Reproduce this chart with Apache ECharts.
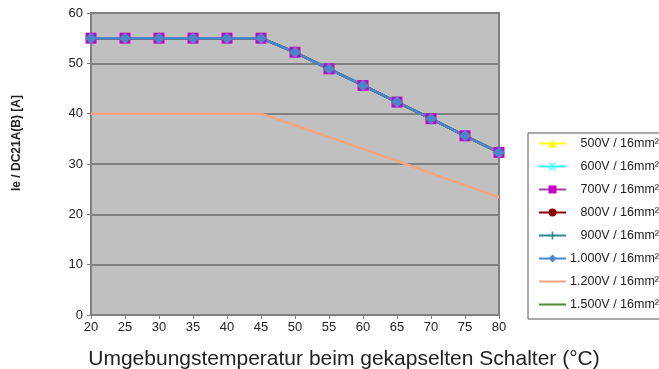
<!DOCTYPE html>
<html>
<head>
  <meta charset="utf-8">
</head>
<body style="margin:0">
  <div id="container" style="width:659px;height:369px"></div>
  <script src="https://cdn.jsdelivr.net/npm/echarts@6/dist/echarts.min.js"></script>
  <script>
    var temps = [20, 25, 30, 35, 40, 45, 50, 55, 60, 65, 70, 75, 80];
    // 500V ... 1.000V curves lie on top of each other
    var ie16 = [55, 55, 55, 55, 55, 55, 52.2, 48.9, 45.6, 42.3, 39.0, 35.6, 32.3];
    var ie1200 = [40, 40, 40, 40, 40, 40, 37.7, 35.4, 33.0, 30.6, 28.2, 25.8, 23.4];
    var ie1500 = [];
    var names = ['500V / 16mm²', '600V / 16mm²', '700V / 16mm²', '800V / 16mm²',
                 '900V / 16mm²', '1.000V / 16mm²', '1.200V / 16mm²', '1.500V / 16mm²'];

    function pairs(v) {
      return v.map(function (y, i) { return [temps[i], y]; });
    }

    function line(name, data, color, symbol, size, lineColor) {
      return {
        name: name,
        type: 'line',
        data: pairs(data),
        symbol: symbol,
        symbolSize: size,
        showSymbol: symbol !== 'none',
        color: color,
        lineStyle: { color: lineColor || color, width: 2.5 },
        itemStyle: { color: color },
        emphasis: { disabled: true }
      };
    }

    var legendData = names.map(function (n, i) {
      // the two lowest entries have no marker
      return i >= 6 ? { name: n, itemStyle: { opacity: 0 } } : { name: n };
    });

    var myChart = echarts.init(document.getElementById('container'));
    var option = {
      animation: false,
      textStyle: { fontFamily: 'Liberation Sans, Arial, sans-serif' },
      grid: {
        left: 91, right: 160, top: 13, bottom: 54,
        outerBoundsMode: 'none',
        show: true, backgroundColor: '#c0c0c0', borderColor: '#808080', borderWidth: 2
      },
      xAxis: {
        type: 'value', min: 20, max: 80, interval: 5,
        name: 'Umgebungstemperatur beim gekapselten Schalter (°C)',
        nameLocation: 'middle', nameGap: 34,
        nameTextStyle: { fontSize: 21, color: '#222', padding: [0, 0, 0, 98] },
        axisLine: { lineStyle: { color: '#808080', width: 2 } },
        axisTick: { show: true, length: 4, lineStyle: { color: '#808080' } },
        axisLabel: { color: '#222', fontSize: 13, margin: 6 },
        splitLine: { show: false }
      },
      yAxis: {
        type: 'value', min: 0, max: 60, interval: 10,
        name: 'Ie / DC21A(B) [A]',
        nameLocation: 'middle', nameGap: 68,
        nameTextStyle: { fontSize: 12, fontWeight: 'bold', color: '#222', padding: [0, 0, 0, 42] },
        axisLine: { show: true, lineStyle: { color: '#808080', width: 2 } },
        axisTick: { show: true, length: 4, lineStyle: { color: '#808080' } },
        axisLabel: { color: '#222', fontSize: 13, margin: 8 },
        splitLine: { lineStyle: { color: '#808080', width: 2 } }
      },
      legend: {
        orient: 'vertical',
        left: 528, top: 133,
        itemWidth: 27, itemHeight: 10, itemGap: 10,
        padding: [4, 10, 8, 10],
        borderColor: '#555', borderWidth: 1,
        formatter: function (n) { return '{r|' + n + '}'; },
        textStyle: {
          fontSize: 12.5, color: '#222',
          rich: { r: { width: 88, align: 'right', fontSize: 12.5, lineHeight: 12, color: '#222' } }
        },
        data: legendData
      },
      series: [
        line(names[0], ie16, '#ffff00', 'triangle', 9),
        line(names[1], ie16, '#33ffff', 'path://M0,0L2,0L5,3L8,0L10,0L6,4L6,6L10,10L8,10L5,7L2,10L0,10L4,6L4,4Z', 9),
        line(names[2], ie16, '#cc00cc', 'rect', 11, '#a040a0'),
        line(names[3], ie16, '#8b0000', 'circle', 8),
        line(names[4], ie16, '#2e8b8b', 'path://M4,0L6,0L6,4L10,4L10,6L6,6L6,10L4,10L4,6L0,6L0,4L4,4Z', 8),
        line(names[5], ie16, '#4a86c8', 'diamond', 12),
        line(names[6], ie1200, '#f4a582', 'none', 0),
        line(names[7], ie1500, '#4a8a30', 'none', 0)
      ]
    };
    myChart.setOption(option);
    window.addEventListener('resize', myChart.resize);
  </script>
</body>
</html>
